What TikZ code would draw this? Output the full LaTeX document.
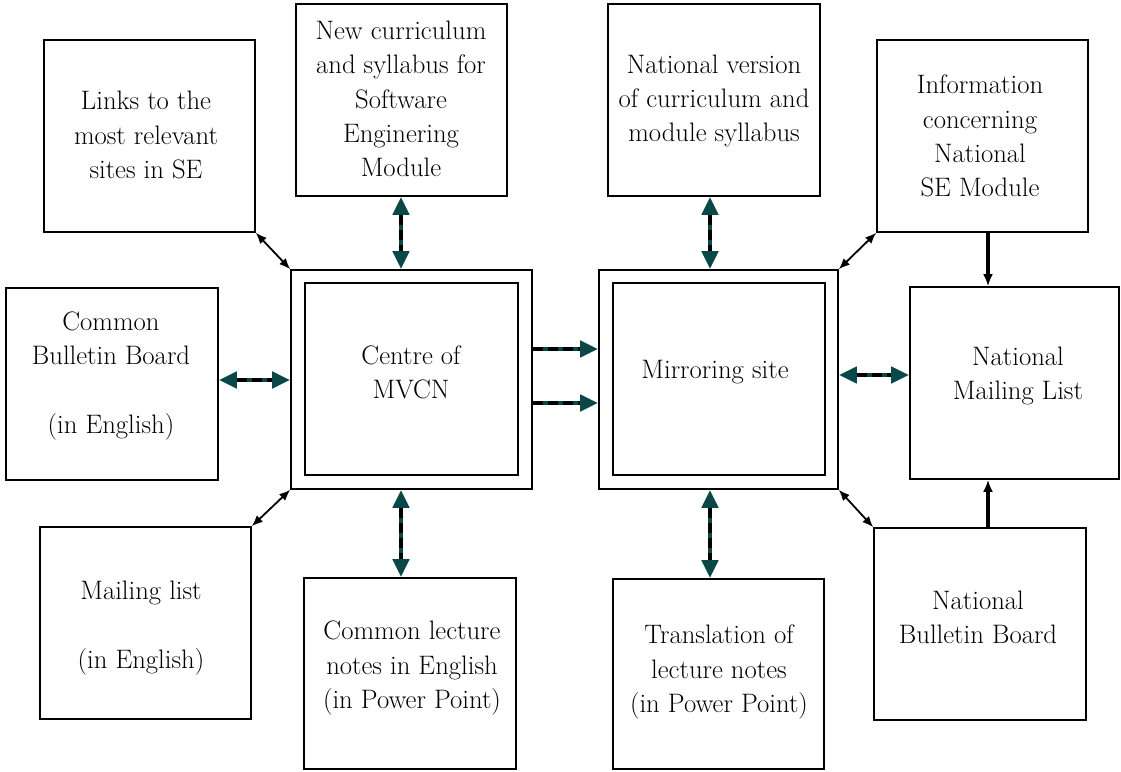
\documentclass[tikz,border=0pt]{standalone}
\usetikzlibrary{arrows.meta}
\definecolor{tealc}{RGB}{10,72,72}
\newcommand{\bothway}[2]{%
  \draw[tealbase,{Triangle[length=18pt,width=16pt]}-{Triangle[length=18pt,width=16pt]}] #1 -- #2;
  \draw[blkdash,shorten <=18pt,shorten >=18pt] #1 -- #2;}
\newcommand{\oneway}[2]{%
  \draw[tealbase,-{Triangle[length=18pt,width=16pt]}] #1 -- #2;
  \draw[blkdash,shorten >=18pt] #1 -- #2;}
\begin{document}
\begin{tikzpicture}[x=1pt,y=-1pt,
  box/.style={draw, line width=1.6pt, minimum width=211pt, minimum height=192pt, inner sep=0pt},
  txt/.style={align=center, font=\rmfamily\fontsize{26.7}{34.3}\selectfont, inner sep=0pt},
  tealbase/.style={draw=tealc, line width=4.5pt},
  blkdash/.style={draw=black, line width=4.5pt, dash pattern=on 10pt off 5pt},
  thinarrow/.style={draw=black, line width=1.8pt, {Latex[length=11pt,width=9pt]}-{Latex[length=11pt,width=9pt]}},
  solidarrow/.style={draw=black, line width=3.2pt, -{Latex[length=12pt,width=10pt]}}
]
\useasboundingbox (0,0) rectangle (1121,771);

% boxes
\node[box] (links) at (149.5,136) {};
\node[box] (newcurr) at (401.5,100) {};
\node[box, minimum width=212pt] (natver) at (714,100) {};
\node[box] (info) at (982.5,136) {};
\node[box, minimum width=212pt] (cbb) at (112,384) {};
\node[box, minimum width=241pt, minimum height=219pt] (centreO) at (411.5,379.5) {};
\node[box, minimum width=213pt] (centre) at (411.5,379) {};
\node[box, minimum width=239pt, minimum height=219pt] (mirrorO) at (718.5,379.5) {};
\node[box, minimum width=212pt] (mirror) at (719,379) {};
\node[box, minimum width=209pt] (nml) at (1014.5,383) {};
\node[box] (mailing) at (145.5,623) {};
\node[box, minimum width=212pt, minimum height=191pt] (cln) at (410,673.5) {};
\node[box, minimum height=190pt] (trans) at (718.5,674) {};
\node[box, minimum width=212pt] (nbb) at (980,624) {};

% texts
\node[txt] (linksT) at (146,135) {Links to the\\most relevant\\sites in SE};
\node[txt] (newcurrT) at (401,99) {New curriculum\\and syllabus for\\Software\\Enginering\\Module};
\node[txt] (natverT) at (714,101) {National version\\of curriculum and\\module syllabus};
\node[txt] (infoT) at (980,136) {Information\\concerning\\National\\SE Module};
\node[txt] (cbbT) at (111,376) {Common\\Bulletin Board\\\mbox{}\\(in English)};
\node[txt] (centreT) at (411,372) {Centre of\\MVCN};
\node[txt] (mirrorT) at (715,372) {Mirroring site};
\node[txt] (nmlT) at (1018,376) {National\\Mailing List};
\node[txt] (mailingT) at (141,628) {Mailing list\\\mbox{}\\(in English)};
\node[txt] (clnT) at (412,668) {Common lecture\\notes in English\\(in Power Point)};
\node[txt] (transT) at (719,672) {Translation of\\lecture notes\\(in Power Point)};
\node[txt] (nbbT) at (978,617) {National\\Bulletin Board};

% guide coordinates for connector positions
\coordinate (ax1) at (401,0);
\coordinate (ax2) at (710,0);
\coordinate (ax3) at (988,0);
\coordinate (ay1) at (0,380);
\coordinate (ay2) at (0,349);
\coordinate (ay3) at (0,403);
\coordinate (ay4) at (0,375);

% thin diagonal connectors
\draw[thinarrow] (links.south east) -- (centreO.north west);
\draw[thinarrow] (mailing.north east) -- (centreO.south west);
\draw[thinarrow] (info.south west) -- (mirrorO.north east);
\draw[thinarrow] (nbb.north west) -- (mirrorO.south east);

% thick two-way connectors
\bothway{(ax1 |- newcurr.south)}{(ax1 |- centreO.north)}
\bothway{(ax1 |- centreO.south)}{(ax1 |- cln.north)}
\bothway{(ax2 |- natver.south)}{(ax2 |- mirrorO.north)}
\bothway{(ax2 |- mirrorO.south)}{(ax2 |- trans.north)}
\bothway{(cbb.east |- ay1)}{(centreO.west |- ay1)}
\bothway{(mirrorO.east |- ay4)}{(nml.west |- ay4)}

% centre to mirroring
\oneway{(centreO.east |- ay2)}{(mirrorO.west |- ay2)}
\oneway{(centreO.east |- ay3)}{(mirrorO.west |- ay3)}

% solid one-way connectors to national mailing list
\draw[solidarrow] (ax3 |- info.south) -- (ax3 |- nml.north);
\draw[solidarrow] (ax3 |- nbb.north) -- (ax3 |- nml.south);
\end{tikzpicture}
\end{document}
